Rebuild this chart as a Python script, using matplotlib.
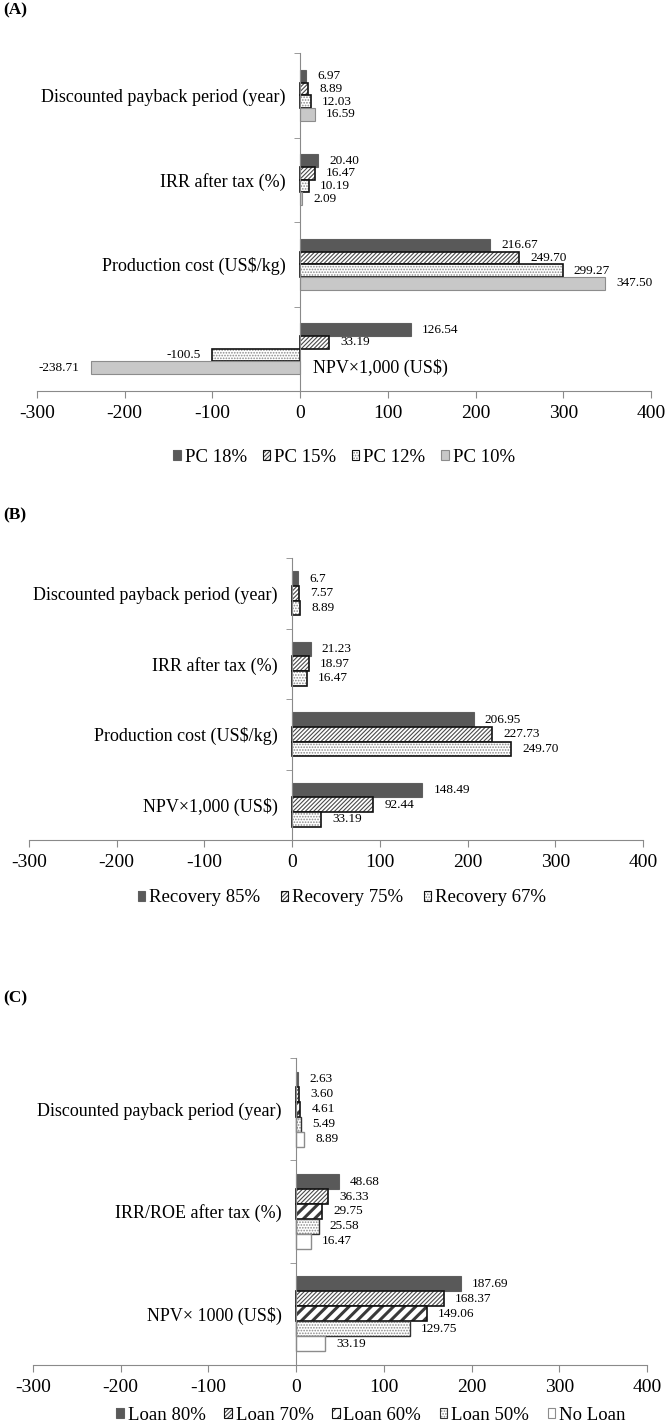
import matplotlib.pyplot as plt
import matplotlib.patches as mpatches
from matplotlib.legend_handler import HandlerTuple
import numpy as np

plt.rcParams['font.family'] = ['Liberation Serif', 'DejaVu Serif']
plt.rcParams['hatch.linewidth'] = 0.8
plt.rcParams['axes.unicode_minus'] = False

# (A) 生产成本情景
cats_a = ['Discounted payback period (year)', 'IRR after tax (%)',
          'Production cost (US$/kg)', 'NPV×1,000 (US$)']
names_a = ['PC 18%', 'PC 15%', 'PC 12%', 'PC 10%']
pc18 = ['6.97', '20.40', '216.67', '126.54']
pc15 = ['8.89', '16.47', '249.70', '33.19']
pc12 = ['12.03', '10.19', '299.27', '-100.5']
pc10 = ['16.59', '2.09', '347.50', '-238.71']

# (B) 回收率情景
cats_b = ['Discounted payback period (year)', 'IRR after tax (%)',
          'Production cost (US$/kg)', 'NPV×1,000 (US$)']
names_b = ['Recovery 85%', 'Recovery 75%', 'Recovery 67%']
rec85 = ['6.7', '21.23', '206.95', '148.49']
rec75 = ['7.57', '18.97', '227.73', '92.44']
rec67 = ['8.89', '16.47', '249.70', '33.19']

# (C) 贷款情景
cats_c = ['Discounted payback period (year)', 'IRR/ROE after tax (%)',
          'NPV× 1000 (US$)']
names_c = ['Loan 80%', 'Loan 70%', 'Loan 60%', 'Loan 50%', 'No Loan']
loan80 = ['2.63', '48.68', '187.69']
loan70 = ['3.60', '36.33', '168.37']
loan60 = ['4.61', '29.75', '149.06']
loan50 = ['5.49', '25.58', '129.75']
noloan = ['8.89', '16.47', '33.19']

# 样式: (填充色, 花纹, 花纹颜色, 边框色, 边框线宽, 花纹线宽)
DARK = ('#595959', None, '#595959', '#5f5f5f', 0.8, None)
DENSE = ('white', '////////', '#4a4a4a', '#111111', 1.2, None)
DOTS = ('white', '......', '#8a8a8a', '#111111', 1.2, None)
LIGHT = ('#c8c8c8', None, '#c8c8c8', '#8c8c8c', 0.8, None)
WIDE = ('white', '///', '#3a3a3a', '#111111', 1.2, 2.2)
DOTS_C = ('white', '......', '#8a8a8a', '#333333', 1.0, None)
EMPTY = ('white', None, 'white', '#8c8c8c', 1.0, None)

GRAY = '#8a8a8a'


def make_handle(st):
    face, hatch, hc, ec, lw, hlw = st
    p1 = mpatches.Patch(facecolor=face, edgecolor=hc, lw=0, hatch=hatch)
    if hlw is not None and hasattr(p1, 'set_hatch_linewidth'):
        p1.set_hatch_linewidth(hlw * 0.6)
    p2 = mpatches.Patch(fill=False, edgecolor=ec, lw=0.8)
    return (p1, p2)


def draw_panel(ax, cats, names, series, styles, gw, npv_inside=False):
    n = len(cats)
    k = len(series)
    h = gw / k
    pos = np.arange(n)
    for j, (vals_s, st) in enumerate(zip(series, styles)):
        face, hatch, hc, ec, lw, hlw = st
        vals = [float(v) for v in vals_s]
        y = pos - gw / 2 + (j + 0.5) * h
        bars = ax.barh(y, vals, height=h, color=face, edgecolor=hc, lw=0, hatch=hatch)
        if hlw is not None:
            for b in bars:
                if hasattr(b, 'set_hatch_linewidth'):
                    b.set_hatch_linewidth(hlw)
        ax.barh(y, vals, height=h, fill=False, edgecolor=ec, lw=lw)
        for yy, v, s in zip(y, vals, vals_s):
            off = 8 if v >= 0 else -8
            ax.annotate(s, (v, yy), xytext=(off, 0), textcoords='offset points',
                        ha='left' if v >= 0 else 'right', va='center', fontsize=9.5)

    ax.set_xlim(-300, 400)
    ax.set_ylim(n - 0.5, -0.5)
    ax.set_xticks(range(-300, 401, 100))
    labels = list(cats)
    if npv_inside:
        labels[-1] = ''
        y_last = (n - 1) - gw / 2 + (k - 0.5) * h
        ax.annotate(cats[-1], (0, y_last), xytext=(9, 0), textcoords='offset points',
                    ha='left', va='center', fontsize=13)
    ax.set_yticks(pos, labels)
    ax.set_yticks(np.arange(-0.5, n, 1), minor=True)

    for s in ['top', 'right']:
        ax.spines[s].set_visible(False)
    ax.spines['left'].set_position(('data', 0))
    ax.spines['left'].set_color(GRAY)
    ax.spines['bottom'].set_color(GRAY)
    ax.tick_params(axis='y', which='major', length=0, pad=10.5, labelsize=13)
    ax.tick_params(axis='y', which='minor', length=4, color=GRAY, direction='out')
    ax.tick_params(axis='x', length=5, color=GRAY, direction='out', labelsize=14, pad=5)


W, H = 669, 1428
fig = plt.figure(figsize=(W / 100, H / 100), dpi=100)


def add_axes(left_px, top_px, bottom_px, width_px=614):
    return fig.add_axes([left_px / W, 1 - bottom_px / H, width_px / W, (bottom_px - top_px) / H])


ax_a = add_axes(37, 53, 391)
ax_b = add_axes(29, 558, 840)
ax_c = add_axes(33, 1058, 1365)

st_a = [DARK, DENSE, DOTS, LIGHT]
st_b = [DARK, DENSE, DOTS]
st_c = [DARK, DENSE, WIDE, DOTS_C, EMPTY]

draw_panel(ax_a, cats_a, names_a, [pc18, pc15, pc12, pc10], st_a, 0.6, npv_inside=True)
draw_panel(ax_b, cats_b, names_b, [rec85, rec75, rec67], st_b, 0.62)
draw_panel(ax_c, cats_c, names_c, [loan80, loan70, loan60, loan50, noloan], st_c, 0.73)

for txt, ypx in [('(A)', 10), ('(B)', 515), ('(C)', 998)]:
    fig.text(3 / W, 1 - ypx / H, txt, fontsize=12.5, fontweight='bold', va='center', ha='left')

leg_kw = dict(frameon=False, loc='center', handlelength=0.4, handleheight=0.4,
              handletextpad=0.2, fontsize=13.5, borderpad=0,
              handler_map={tuple: HandlerTuple(ndivide=1)})
fig.legend([make_handle(s) for s in st_a], names_a, ncol=4, columnspacing=0.85,
           bbox_to_anchor=(344 / W, 1 - 457 / H), **leg_kw)
fig.legend([make_handle(s) for s in st_b], names_b, ncol=3, columnspacing=1.1,
           bbox_to_anchor=(342 / W, 1 - 898 / H), **leg_kw)
fig.legend([make_handle(s) for s in st_c], names_c, ncol=5, columnspacing=1.0,
           bbox_to_anchor=(371 / W, 1 - 1415 / H), **leg_kw)

fig.savefig('out.png', dpi=100)
